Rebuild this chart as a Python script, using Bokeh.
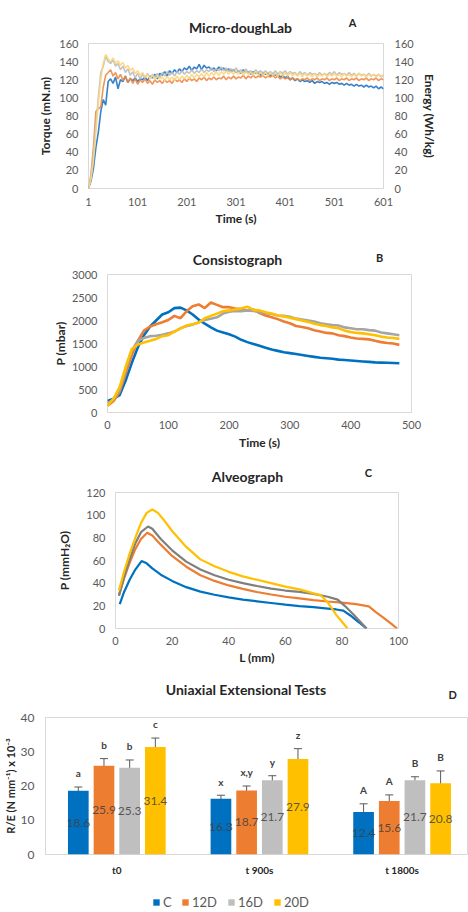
from bokeh.plotting import figure
from bokeh.models import (Range1d, LinearAxis, Label, FixedTicker, ColumnDataSource,
                          Whisker, Legend, LegendItem, TeeHead)
from bokeh.transform import dodge
from bokeh.core.properties import value
from bokeh.embed import file_html
from bokeh.resources import INLINE

FONT = "Lato"
TXT = "#262626"
TICK = "#595959"
FRAME = "#D9D9D9"

# ---------------- Panel A: Micro-doughLab (torque, every 5 s) ----------------
a_time = list(range(1, 602, 5))
a_C = [0, 8, 22, 45, 62, 85, 98, 92, 118, 121,
       116, 123, 110, 120, 118, 124, 117, 121, 119, 122,
       118, 121, 120, 123, 119, 124, 122, 126, 121, 127,
       125, 129, 124, 130, 127, 131, 128, 132, 129, 133,
       131, 135, 130, 134, 132, 137, 131, 136, 133, 134,
       131, 133, 130, 134, 131, 133, 130, 132, 129, 131,
       128, 130, 127, 131, 128, 129, 126, 129, 127, 128,
       125, 128, 126, 127, 124, 127, 125, 126, 123, 125,
       122, 124, 120, 122, 119, 121, 118, 120, 118, 119,
       117, 119, 116, 118, 117, 118, 116, 117, 115, 117,
       116, 117, 115, 116, 114, 116, 114, 115, 113, 115,
       113, 114, 112, 114, 112, 113, 111, 113, 110, 112,
       110]
a_12D = [0, 15, 45, 85, 88, 90, 112, 125, 128, 131,
         124, 128, 121, 126, 119, 124, 117, 122, 116, 121,
         115, 120, 117, 121, 116, 119, 115, 120, 117, 119,
         116, 120, 117, 119, 116, 121, 118, 120, 117, 121,
         118, 122, 119, 121, 118, 122, 120, 123, 119, 122,
         120, 123, 120, 122, 121, 124, 120, 123, 121, 124,
         121, 123, 122, 125, 121, 124, 122, 125, 122, 124,
         123, 125, 122, 124, 123, 125, 122, 124, 121, 123,
         121, 122, 120, 122, 120, 121, 119, 121, 120, 122,
         119, 121, 120, 122, 119, 121, 120, 122, 119, 121,
         120, 122, 119, 121, 120, 122, 119, 121, 120, 122,
         119, 121, 120, 122, 119, 121, 120, 122, 119, 121,
         120]
a_16D = [0, 12, 40, 70, 100, 128, 135, 146, 140, 138,
         142, 135, 138, 131, 135, 128, 132, 125, 129, 122,
         127, 121, 126, 122, 127, 121, 126, 123, 127, 122,
         128, 124, 129, 125, 128, 124, 129, 126, 130, 126,
         129, 127, 131, 127, 130, 128, 132, 128, 131, 129,
         133, 129, 132, 130, 134, 130, 133, 129, 132, 130,
         133, 129, 131, 128, 132, 128, 130, 127, 131, 128,
         130, 127, 130, 127, 129, 126, 130, 126, 129, 127,
         130, 126, 129, 127, 128, 125, 129, 126, 128, 125,
         128, 126, 127, 125, 128, 125, 127, 125, 128, 126,
         129, 125, 128, 126, 127, 125, 128, 125, 127, 124,
         127, 125, 126, 124, 127, 124, 126, 124, 126, 123,
         125]
a_20D = [0, 10, 30, 62, 95, 120, 138, 148, 143, 140,
         144, 138, 141, 136, 139, 133, 136, 130, 133, 127,
         130, 125, 128, 123, 126, 121, 125, 120, 124, 121,
         123, 119, 124, 120, 123, 119, 124, 120, 124, 121,
         125, 121, 126, 122, 126, 123, 127, 123, 128, 124,
         128, 125, 129, 125, 129, 126, 130, 126, 129, 126,
         130, 126, 129, 125, 129, 126, 128, 125, 129, 125,
         128, 125, 128, 124, 128, 125, 127, 124, 128, 124,
         127, 124, 128, 124, 127, 124, 127, 123, 127, 124,
         126, 123, 127, 123, 126, 124, 127, 123, 126, 124,
         127, 124, 126, 123, 127, 124, 126, 123, 126, 124,
         127, 124, 126, 123, 126, 124, 126, 123, 126, 124,
         125]
a_xticks = [1, 101, 201, 301, 401, 501, 601]
a_yticks = [0, 20, 40, 60, 80, 100, 120, 140, 160]

# ---------------- Panel B: Consistograph (every 10 s) ----------------
b_time = list(range(0, 481, 10))
b_C = [250, 300, 380, 700, 1080, 1420, 1680, 1870, 2000, 2130,
       2180, 2270, 2280, 2220, 2130, 2020, 1930, 1850, 1780, 1740,
       1700, 1650, 1580, 1530, 1490, 1450, 1410, 1370, 1340, 1310,
       1290, 1270, 1250, 1230, 1210, 1190, 1180, 1170, 1150, 1140,
       1130, 1120, 1110, 1100, 1090, 1085, 1080, 1075, 1070]
b_12D = [150, 250, 450, 850, 1250, 1560, 1780, 1870, 1920, 1960,
         2010, 2100, 2050, 2200, 2310, 2350, 2270, 2390, 2340, 2290,
         2290, 2260, 2250, 2210, 2240, 2160, 2110, 2070, 2030, 1980,
         1940, 1880, 1860, 1830, 1790, 1760, 1730, 1720, 1680, 1660,
         1630, 1610, 1600, 1590, 1560, 1530, 1510, 1500, 1470]
b_16D = [200, 280, 500, 950, 1350, 1560, 1620, 1660, 1670, 1690,
         1720, 1760, 1830, 1880, 1910, 1960, 2010, 2040, 2070, 2150,
         2190, 2210, 2200, 2220, 2210, 2180, 2160, 2140, 2110, 2100,
         2080, 2040, 2020, 2000, 1980, 1940, 1920, 1900, 1890, 1850,
         1830, 1810, 1810, 1790, 1780, 1740, 1720, 1700, 1680]
b_20D = [150, 300, 550, 1000, 1380, 1480, 1520, 1560, 1600, 1660,
         1680, 1760, 1830, 1890, 1920, 1950, 2050, 2100, 2150, 2200,
         2220, 2240, 2260, 2300, 2230, 2220, 2180, 2150, 2110, 2090,
         2060, 2030, 2000, 1970, 1930, 1900, 1880, 1850, 1830, 1780,
         1750, 1730, 1720, 1700, 1680, 1650, 1630, 1620, 1600]
b_xticks = [0, 100, 200, 300, 400, 500]
b_yticks = [0, 500, 1000, 1500, 2000, 2500, 3000]

# ---------------- Panel C: Alveograph ----------------
c_L_C = [1.5, 3, 5, 7, 9.2, 11, 13, 16, 20, 25, 30, 35, 40, 45, 50, 55, 60, 65, 70, 75, 78, 80.5, 83, 86, 88.7]
c_P_C = [21.6, 32, 43, 52, 59.5, 57.5, 53, 47.5, 42, 36.5, 32.5, 29.8, 27.5, 25.5, 24, 22.5, 21, 19.8, 18.8, 17.6, 16.8, 15.7, 11.5, 5.5, 0]
c_L_12D = [1.2, 3, 5, 7, 9, 11.2, 13, 16, 20, 25, 30, 35, 40, 45, 50, 55, 60, 65, 70, 75, 80, 85, 89.5, 92, 95, 97.5, 99.5]
c_P_12D = [29, 44, 58, 70, 79, 84.5, 82, 74, 64, 54.5, 47, 42, 38, 35, 32.2, 30, 28, 26.5, 25, 23.8, 22.8, 21.5, 19.5, 14.5, 9, 4, 0]
c_L_16D = [1.2, 3, 5, 7, 9, 11.5, 13, 16, 20, 25, 30, 35, 40, 45, 50, 55, 60, 65, 70, 75, 78.5, 81, 84, 86.5, 88.7]
c_P_16D = [29, 45, 61, 75, 85, 90, 88, 79, 69, 59, 52, 47, 43, 40, 37.5, 35.2, 33.5, 32.3, 30.5, 28, 25.5, 20, 12.5, 6, 0]
c_L_20D = [1.2, 3, 5, 7, 9, 11, 13, 15, 17, 20, 25, 30, 35, 40, 45, 50, 55, 60, 65, 70, 72.5, 75, 78, 80, 82]
c_P_20D = [33.4, 50, 66, 80, 93, 102, 105, 102, 96, 86, 72, 61, 55, 50, 46, 43, 40, 37, 34.5, 31, 29.5, 23, 12, 6, 0]
c_xticks = [0, 20, 40, 60, 80, 100]
c_yticks = [0, 20, 40, 60, 80, 100, 120]

# ---------------- Panel D: Uniaxial Extensional Tests ----------------
d_groups = ["t0", "t 900s", "t 1800s"]
d_series = ["C", "12D", "16D", "20D"]
d_C = [18.6, 16.3, 12.4]
d_12D = [25.9, 18.7, 15.6]
d_16D = [25.3, 21.7, 21.7]
d_20D = [31.4, 27.9, 20.8]
d_err_C = [1.1, 1.0, 2.4]
d_err_12D = [2.1, 1.3, 1.8]
d_err_16D = [2.3, 1.3, 1.0]
d_err_20D = [2.6, 3.0, 3.6]
d_sig_C = ["a", "x", "A"]
d_sig_12D = ["b", "x,y", "A"]
d_sig_16D = ["b", "y", "B"]
d_sig_20D = ["c", "z", "B"]
d_yticks = [0, 10, 20, 30, 40]


def style(p, tick_standoff=10):
    p.outline_line_color = FRAME
    p.outline_line_width = 1
    p.xgrid.visible = False
    p.ygrid.visible = False
    for ax in p.axis:
        ax.axis_line_color = None
        ax.major_tick_line_color = None
        ax.minor_tick_line_color = None
        ax.major_tick_out = 0
        ax.major_tick_in = 0
        ax.major_label_standoff = tick_standoff
        ax.major_label_text_font = FONT
        ax.major_label_text_font_size = "11px"
        ax.major_label_text_color = TICK
        ax.axis_label_text_font = FONT
        ax.axis_label_text_font_size = "12px"
        ax.axis_label_text_font_style = "bold"
        ax.axis_label_text_color = TXT


def add_top_text(p, x, y, text, size):
    # placed in the 'above' side panel so it is not clipped to the plot frame
    p.add_layout(Label(x=x, y=y, text=text, text_align="center", text_baseline="middle",
                       text_font=FONT, text_font_size=size, text_font_style="bold",
                       text_color=TXT), "above")


# ---------- Figure A ----------
pA = figure(width=468, height=228, x_range=Range1d(1, 601), y_range=Range1d(0, 160),
            output_backend="svg", toolbar_location=None,
            min_border_left=88, min_border_right=85, min_border_top=43, min_border_bottom=38)
pA.extra_y_ranges = {"energy": Range1d(0, 160)}
pA.add_layout(LinearAxis(y_range_name="energy", axis_label="Energy (Wh/kg)"), "right")
pA.xaxis.axis_label = "Time (s)"
pA.yaxis[0].axis_label = "Torque (mN.m)"
style(pA)
pA.xaxis.ticker = FixedTicker(ticks=a_xticks)
for ax in pA.yaxis:
    ax.ticker = FixedTicker(ticks=a_yticks)
pA.xaxis.major_label_standoff = 9
pA.xaxis.axis_label_standoff = 2
pA.yaxis[0].axis_label_standoff = 3
pA.yaxis[1].major_label_standoff = 11
pA.yaxis[1].axis_label_standoff = 5
pA.yaxis[1].axis_label_orientation = "vertical"
a_cols = ["#1F74C4", "#EE8A48", "#BDBDBD", "#FBD680"]
for ys, col in zip([a_C, a_12D, a_16D, a_20D], a_cols):
    pA.line(a_time, ys, line_color=col, line_width=1.6, line_alpha=0.9)
add_top_text(pA, 310.2, 178, "Micro-doughLab", "14px")
add_top_text(pA, 538, 182.9, "A", "11px")

# ---------- Figure B ----------
pB = figure(width=468, height=224, x_range=Range1d(0, 500), y_range=Range1d(0, 3000),
            output_backend="svg", toolbar_location=None,
            min_border_left=107, min_border_right=57, min_border_top=46, min_border_bottom=33)
pB.xaxis.axis_label = "Time (s)"
pB.yaxis.axis_label = "P (mbar)"
style(pB)
pB.xaxis.ticker = FixedTicker(ticks=b_xticks)
pB.yaxis.ticker = FixedTicker(ticks=b_yticks)
pB.xaxis.major_label_standoff = 8
pB.xaxis.axis_label_standoff = 3
pB.yaxis.axis_label_standoff = 1
for ys, col in zip([b_C, b_12D, b_16D, b_20D], ["#0070C0", "#ED7D31", "#A5A5A5", "#FFC000"]):
    pB.line(b_time, ys, line_color=col, line_width=2.6)
add_top_text(pB, 213.8, 3330, "Consistograph", "14px")
add_top_text(pB, 447.4, 3360, "B", "11px")

# ---------- Figure C ----------
pC = figure(width=468, height=216, x_range=Range1d(0, 100), y_range=Range1d(0, 120),
            output_backend="svg", toolbar_location=None,
            min_border_left=115, min_border_right=70, min_border_top=40, min_border_bottom=40)
pC.xaxis.axis_label = "L (mm)"
pC.yaxis.axis_label = "P (mmH\u2082O)"
style(pC)
pC.xaxis.ticker = FixedTicker(ticks=c_xticks)
pC.yaxis.ticker = FixedTicker(ticks=c_yticks)
pC.xaxis.major_label_standoff = 8
pC.xaxis.axis_label_standoff = 2
pC.yaxis.axis_label_standoff = 11
for xs, ys, col in zip([c_L_C, c_L_12D, c_L_16D, c_L_20D], [c_P_C, c_P_12D, c_P_16D, c_P_20D],
                       ["#0070C0", "#ED7D31", "#7F7F7F", "#FFC000"]):
    pC.line(xs, ys, line_color=col, line_width=2.2)
add_top_text(pC, 46.6, 134, "Alveograph", "14px")
add_top_text(pC, 89.4, 137.5, "C", "11px")

# ---------- Figure D ----------
pD = figure(width=468, height=220, x_range=Range1d(0, 2.9655), y_range=Range1d(0, 40),
            output_backend="svg", toolbar_location=None,
            min_border_left=38, min_border_right=0, min_border_top=49, min_border_bottom=34)
pD.yaxis.axis_label = "R/E (N mm\u207b\u00b9) x 10\u207b\u00b3"
style(pD)
group_pos = [i + 0.5 for i in range(len(d_groups))]
pD.xaxis.ticker = FixedTicker(ticks=group_pos)
pD.xaxis.major_label_overrides = {pos: g for pos, g in zip(group_pos, d_groups)}
pD.xaxis.major_label_text_font_style = "bold"
pD.xaxis.major_label_text_font_size = "10px"
pD.xaxis.major_label_text_color = TXT
pD.xaxis.major_label_standoff = 9
pD.yaxis.ticker = FixedTicker(ticks=d_yticks)
pD.yaxis.major_label_text_font_size = "12px"
pD.yaxis.major_label_standoff = 11
pD.yaxis.axis_label_standoff = 1
pD.yaxis.axis_label_text_font_size = "11px"

offsets = [-0.27, -0.09, 0.09, 0.27]
d_colors = ["#0070C0", "#ED7D31", "#BFBFBF", "#FFC000"]
for name, vals, errs, sigs, off, col in zip(
        d_series, [d_C, d_12D, d_16D, d_20D], [d_err_C, d_err_12D, d_err_16D, d_err_20D],
        [d_sig_C, d_sig_12D, d_sig_16D, d_sig_20D], offsets, d_colors):
    src = ColumnDataSource(dict(
        x=group_pos, top=vals,
        upper=[v + e for v, e in zip(vals, errs)],
        lower=[v - e for v, e in zip(vals, errs)],
        mid=[v / 2 for v in vals],
        lab=["%.1f" % v for v in vals],
        sig=sigs,
        sig_y=[v + e + 4 for v, e in zip(vals, errs)]))
    xpos = dodge("x", off, range=pD.x_range)
    pD.vbar(x=xpos, top="top", width=0.145, fill_color=col, line_color=None, source=src)
    pD.add_layout(Whisker(source=src, base=xpos, upper="upper", lower="lower",
                          line_color="#595959", line_width=1,
                          upper_head=TeeHead(size=8, line_color="#595959", line_width=1),
                          lower_head=TeeHead(size=8, line_color="#595959", line_width=1)))
    pD.text(x=xpos, y="mid", text="lab", source=src, text_align="center", text_baseline="middle",
            text_font=value(FONT), text_font_size="12px", text_color="#404040", text_alpha=0.85)
    pD.text(x=xpos, y="sig_y", text="sig", source=src, text_align="center", text_baseline="middle",
            text_font=value(FONT), text_font_size="10px", text_font_style="bold", text_color="#404040")
add_top_text(pD, 1.407, 48.2, "Uniaxial Extensional Tests", "14px")
add_top_text(pD, 2.855, 46.7, "D", "11px")

# ---------- Legend strip for panel D ----------
pL = figure(width=468, height=24, x_range=Range1d(0, 1), y_range=Range1d(0, 1),
            output_backend="svg", toolbar_location=None,
            x_axis_location=None, y_axis_location=None,
            min_border_left=0, min_border_right=0, min_border_top=0, min_border_bottom=0)
pL.outline_line_color = None
pL.xgrid.visible = False
pL.ygrid.visible = False
items = []
for name, col in zip(d_series, d_colors):
    # zero-height key glyph: only its legend swatch is visible
    r = pL.vbar(x=[0.5], top=[0], bottom=[0], width=0.01, fill_color=col, line_color=None)
    items.append(LegendItem(label=name, renderers=[r]))
legend_kw = dict(orientation="horizontal", glyph_width=8, glyph_height=8, label_standoff=3,
                 spacing=10, padding=0, margin=0, border_line_color=None,
                 background_fill_alpha=0, label_text_font=FONT, label_text_font_size="13px",
                 label_text_color=TICK, label_height=16)
pL.add_layout(Legend(items=items[:1], location=(152, 2), **legend_kw), "center")
pL.add_layout(Legend(items=items[1:], location=(181, 2), **legend_kw), "center")

open("out.html", "w").write(file_html([pA, pB, pC, pD, pL], INLINE))
